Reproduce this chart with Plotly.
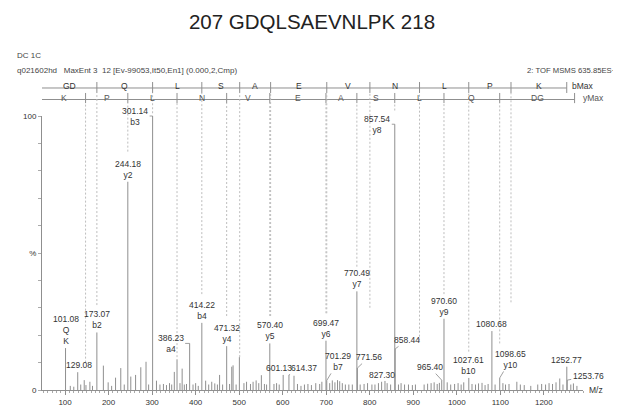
import plotly.graph_objects as go

# ---------------- data ----------------
title_text = "207 GDQLSAEVNLPK 218"
header_line1 = "DC 1C"
header_line2 = "q021602hd\u00a0\u00a0\u00a0MaxEnt 3\u00a0\u00a012 [Ev-99053,It50,En1] (0.000,2,Cmp)"
header_right = "2: TOF MSMS 635.85ES+"

# labelled peaks (m/z, relative intensity %)
label_mz = [101.08, 129.08, 173.07, 244.18, 301.14, 386.23, 414.22, 471.32, 570.40,
            601.13, 614.37, 699.47, 701.29, 770.49, 771.56, 827.30, 857.54, 858.44,
            965.40, 970.60, 1027.61, 1080.68, 1098.65, 1252.77, 1253.76]
label_int = [15.3, 6.5, 21.0, 76.0, 100.0, 17.0, 24.5, 16.0, 17.0,
             5.5, 5.5, 18.0, 3.5, 36.0, 8.0, 3.0, 97.0, 15.0,
             3.6, 26.0, 4.4, 21.5, 4.4, 8.5, 3.6]
label_ion = ["Q<br>K", "", "b2", "y2", "b3", "a4", "b4", "y4", "y5",
             "", "", "y6", "b7", "y7", "", "", "y8", "",
             "", "y9", "b10", "", "y10", "", ""]

# unlabelled (noise) peaks
noise_mz = [112, 120, 136, 144, 148, 157, 163, 188, 199, 207, 216, 228, 236, 251, 262, 274,
            286, 292, 310, 318, 326, 333, 340, 345, 351, 357.25, 364, 369, 374, 379, 394,
            400, 406, 423, 430, 437, 444, 450, 455, 462, 478, 483, 486, 493, 500.5, 511,
            517, 526, 532, 539, 545, 551, 558, 563, 580, 586, 592, 626, 634, 642, 650, 658,
            666, 676, 685, 690, 708, 714, 720, 726, 731, 737, 744, 752, 760, 778, 787, 795,
            805, 812, 820, 835, 840, 848, 866, 872, 880, 889, 898, 905, 925, 933, 941, 948,
            955, 960, 978, 986, 995, 1003, 1010, 1016, 1035, 1043, 1050, 1058, 1065, 1072,
            1088, 1106, 1112, 1120, 1138, 1146, 1155, 1170, 1186, 1195, 1204, 1212, 1220,
            1228, 1236.6, 1244, 1262, 1268, 1276]
noise_int = [1.5, 1.2, 2.0, 3.6, 1.8, 3.0, 1.5, 8.9, 2.8, 1.5, 4.5, 8.0, 2.0, 4.9, 5.5, 8.3,
             10.3, 2.0, 3.4, 2.0, 2.2, 1.8, 2.5, 2.0, 6.6, 11.2, 2.5, 7.8, 2.0, 2.2, 2.0,
             2.5, 1.5, 3.4, 2.0, 3.0, 2.4, 2.0, 5.5, 2.0, 2.2, 8.5, 9.0, 2.0, 12.0, 2.5,
             3.0, 2.2, 3.0, 3.5, 2.5, 5.4, 2.2, 2.0, 2.2, 2.5, 2.0, 5.2, 2.2, 1.5, 2.0, 2.2,
             1.8, 2.5, 2.2, 3.0, 2.5, 3.5, 2.8, 3.6, 3.2, 2.5, 2.0, 2.0, 2.0, 2.0, 2.2, 2.5,
             2.0, 2.0, 2.5, 3.3, 2.5, 2.0, 2.0, 2.5, 2.0, 2.0, 1.8, 2.0, 2.0, 2.3, 2.5, 2.8,
             2.2, 2.6, 2.8, 2.0, 2.2, 2.5, 2.0, 2.8, 2.2, 2.0, 2.4, 2.6, 1.8, 2.2,
             2.0, 2.5, 2.0, 2.2, 3.0, 2.0, 1.8, 1.5, 2.0, 2.2, 2.0, 2.5, 2.2,
             2.8, 4.2, 2.0, 2.0, 2.4, 1.5]

# fragment ladder (theoretical m/z) and residue letters between them
b_ions = [173.05, 301.11, 414.20, 501.23, 572.27, 701.31, 800.38, 914.42, 1027.51, 1124.56, 1252.65]
b_letters = ["GD", "Q", "L", "S", "A", "E", "V", "N", "L", "P", "K"]
y_ions = [147.11, 244.17, 357.25, 471.29, 570.36, 699.40, 770.44, 857.47, 970.56, 1098.61, 1270.66]
y_letters = ["K", "P", "L", "N", "V", "E", "A", "S", "L", "Q", "DG"]
# how far down (in %) the dashed guide of each ion reaches
b_guide_end = [31, 101, 35, 12, 27, 28, 30, 18, 14, 32]
y_guide_end = [10, 87, 12, 27, 27, 28, 45, 102, 35, 17]

x_range = [47, 1290]
x_ticks = list(range(100, 1300, 100))

# ---------------- style ----------------
GREY_LINE = "#8f8f8f"
GUIDE = "#bdbdbd"
TXT = "#333333"
FONT = "Liberation Sans, Arial, sans-serif"
LBL_SIZE = 8.5
HDR_SIZE = 8

# the page body adds an 8px offset, so the figure is drawn 8px smaller
FIG_W, FIG_H = 613, 399

# label placement (pixel offsets) for labels that use leader lines
leader = {301.14: (-17.5, 0), 386.23: (-19, 0), 614.37: (15.5, -7), 701.29: (11.5, -19),
          771.56: (11.5, -11), 857.54: (-17.5, 0), 858.44: (12, -9), 965.40: (-12, -13),
          1098.65: (11, -18.5), 1253.76: (21, -4)}
shift_x = {601.13: -4, 129.08: 1}

fig = go.Figure()

# peaks as stick lines
all_mz = list(label_mz) + list(noise_mz)
all_int = list(label_int) + list(noise_int)
xs, ys = [], []
for m, h in zip(all_mz, all_int):
    xs += [m, m, None]
    ys += [0, h, None]
fig.add_trace(go.Scatter(x=xs, y=ys, mode="lines", line=dict(color=GREY_LINE, width=1),
                         hoverinfo="skip", showlegend=False))

annotations = []
shapes = []

# peak labels
for m, h, ion in zip(label_mz, label_int, label_ion):
    txt = f"{m:.2f}" + (f"<br>{ion}" if ion else "")
    if m in leader:
        ax, ay = leader[m]
        annotations.append(dict(x=m, y=h, xref="x", yref="y", text=txt, showarrow=True,
                                ax=ax, ay=ay, arrowhead=0, arrowwidth=0.8, arrowcolor="#888",
                                standoff=0, startstandoff=0,
                                font=dict(size=LBL_SIZE, color=TXT, family=FONT)))
    else:
        annotations.append(dict(x=m, y=h, xref="x", yref="y", text=txt, showarrow=False,
                                yanchor="bottom", xanchor="center", yshift=0,
                                xshift=shift_x.get(m, 0),
                                font=dict(size=LBL_SIZE, color=TXT, family=FONT)))

# ladder rows (paper y above the plot area)
B_LINE, B_TXT, B_T0, B_T1 = 1.1022, 1.1095, 1.084, 1.124
Y_LINE, Y_TXT, Y_T0, Y_T1 = 1.0602, 1.0657, 1.047, 1.084

shapes.append(dict(type="line", xref="x", yref="paper", x0=x_range[0], x1=b_ions[-1],
                   y0=B_LINE, y1=B_LINE, line=dict(color=GREY_LINE, width=1)))
shapes.append(dict(type="line", xref="x", yref="paper", x0=x_range[0], x1=y_ions[-1],
                   y0=Y_LINE, y1=Y_LINE, line=dict(color=GREY_LINE, width=1)))
for m in b_ions:
    shapes.append(dict(type="line", xref="x", yref="paper", x0=m, x1=m, y0=B_T0, y1=B_T1,
                       line=dict(color=GREY_LINE, width=1)))
for m in y_ions:
    shapes.append(dict(type="line", xref="x", yref="paper", x0=m, x1=m, y0=Y_T0, y1=Y_T1,
                       line=dict(color=GREY_LINE, width=1)))
b_edges = [x_range[0]] + b_ions
for i, letter in enumerate(b_letters):
    annotations.append(dict(x=(b_edges[i] + b_edges[i + 1]) / 2, y=B_TXT, xref="x", yref="paper",
                            text=letter, showarrow=False, yanchor="middle",
                            font=dict(size=LBL_SIZE, color=TXT, family=FONT)))
y_edges = [x_range[0]] + y_ions
for i, letter in enumerate(y_letters):
    annotations.append(dict(x=(y_edges[i] + y_edges[i + 1]) / 2, y=Y_TXT, xref="x", yref="paper",
                            text=letter, showarrow=False, yanchor="middle",
                            font=dict(size=LBL_SIZE, color="#555", family=FONT)))
annotations.append(dict(x=1.0, y=B_TXT, xref="paper", yref="paper", text="bMax", showarrow=False,
                        xanchor="center", yanchor="middle",
                        font=dict(size=LBL_SIZE, color=TXT, family=FONT)))
annotations.append(dict(x=1.0, y=Y_TXT, xref="paper", yref="paper", text="yMax", showarrow=False,
                        xanchor="center", yanchor="middle", xshift=10,
                        font=dict(size=LBL_SIZE, color="#555", family=FONT)))

# dashed guides
for m, end in zip(b_ions[:-1], b_guide_end):
    shapes.append(dict(type="line", xref="x", yref="paper", x0=m, x1=m, y0=end / 100, y1=B_T0,
                       line=dict(color=GUIDE, width=1, dash="2px,2px")))
for m, end in zip(y_ions[:-1], y_guide_end):
    shapes.append(dict(type="line", xref="x", yref="paper", x0=m, x1=m, y0=end / 100, y1=Y_T0,
                       line=dict(color=GUIDE, width=1, dash="2px,2px")))

# header text
annotations.append(dict(x=(15 - 42) / 541, y=1.2226, xref="paper", yref="paper", text=header_line1,
                        showarrow=False, xanchor="left", yanchor="middle",
                        font=dict(size=HDR_SIZE, color="#444", family=FONT)))
annotations.append(dict(x=(15 - 42) / 541, y=1.1664, xref="paper", yref="paper", text=header_line2,
                        showarrow=False, xanchor="left", yanchor="middle",
                        font=dict(size=HDR_SIZE, color="#444", family=FONT)))
annotations.append(dict(x=(525 - 42) / 541, y=1.1664, xref="paper", yref="paper", text=header_right,
                        showarrow=False, xanchor="left", yanchor="middle",
                        font=dict(size=7.7, color="#444", family=FONT)))
annotations.append(dict(x=1.0037, y=0, xref="paper", yref="paper", text="M/z",
                        showarrow=False, xanchor="left", yanchor="middle", xshift=2,
                        font=dict(size=8.5, color=TXT, family=FONT)))

fig.update_layout(
    width=FIG_W, height=FIG_H,
    margin=dict(l=34, r=38, t=108, b=17, autoexpand=False),
    paper_bgcolor="white", plot_bgcolor="white",
    title=dict(text=title_text, x=304 / FIG_W, xref="container", y=1 - 14 / FIG_H,
               yref="container", xanchor="center", yanchor="middle",
               font=dict(size=20.5, color="#222", family=FONT)),
    xaxis=dict(range=x_range, showgrid=False, zeroline=False, showline=True, automargin=False,
               linecolor=GREY_LINE, linewidth=1, ticks="outside", ticklen=4, tickwidth=1,
               tickcolor=GREY_LINE, tickvals=x_ticks,
               tickfont=dict(size=8, color=TXT, family=FONT),
               minor=dict(dtick=10, tick0=0, ticks="outside", ticklen=2, tickcolor="#aaa",
                          showgrid=False)),
    yaxis=dict(range=[0, 100], showgrid=False, zeroline=False, showline=True, automargin=False,
               linecolor=GREY_LINE, linewidth=1, ticks="outside", ticklen=3, tickwidth=1,
               tickcolor="#aaa", tickvals=[0, 50, 100], ticktext=["0", "%", "100"],
               tickfont=dict(size=8, color=TXT, family=FONT),
               minor=dict(dtick=10, tick0=0, ticks="outside", ticklen=3, tickcolor="#aaa",
                          showgrid=False)),
    annotations=annotations,
    shapes=shapes,
    showlegend=False,
)

fig.write_html("out.html")
